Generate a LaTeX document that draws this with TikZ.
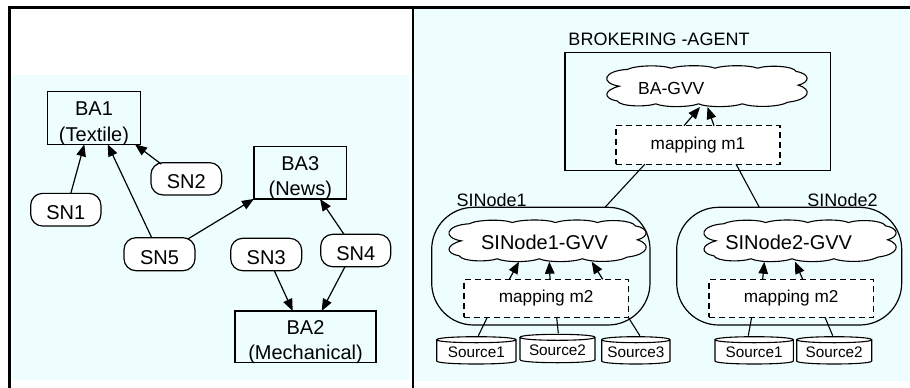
\documentclass[tikz,border=0pt]{standalone}
\usepackage{fontspec}
\setmainfont{Liberation Sans}
\usetikzlibrary{arrows.meta,calc}
\definecolor{panelcyan}{RGB}{238,254,255}

% closed scalloped outline filling the box of node #1 (half sizes #2, #3 in pt)
\newcommand\cloudoutline[3]{%
  \begin{scope}[shift={(#1.center)}, x=#2pt, y=#3pt]
    \draw[line width=1.1pt, fill=white]
      (-0.86,0.0) .. controls (-1.05,0.15) and (-1.02,0.75) .. (-0.78,0.82)
      .. controls (-0.70,1.02) and (-0.45,1.05) .. (-0.35,0.88)
      .. controls (-0.25,1.04) and (0.0,1.04) .. (0.08,0.88)
      .. controls (0.18,1.04) and (0.42,1.04) .. (0.5,0.88)
      .. controls (0.6,1.04) and (0.85,1.0) .. (0.88,0.72)
      .. controls (1.02,0.6) and (1.02,0.2) .. (0.9,0.05)
      .. controls (1.04,-0.15) and (1.02,-0.65) .. (0.8,-0.78)
      .. controls (0.7,-1.04) and (0.45,-1.04) .. (0.35,-0.86)
      .. controls (0.25,-1.04) and (0.0,-1.04) .. (-0.08,-0.86)
      .. controls (-0.18,-1.04) and (-0.42,-1.04) .. (-0.5,-0.86)
      .. controls (-0.6,-1.02) and (-0.85,-1.0) .. (-0.88,-0.72)
      .. controls (-1.02,-0.6) and (-1.02,-0.2) .. (-0.86,0.0) -- cycle;
  \end{scope}}

% data-source drum drawn over the box of node #1
\newcommand\drum[1]{%
  \draw[line width=1.1pt, fill=white]
    let \p1=(#1.north west), \p2=(#1.south east) in
    (\x1,\y1-3pt) -- (\x1,\y2+3pt)
    .. controls (\x1,\y2-1pt) and (\x2,\y2-1pt) .. (\x2,\y2+3pt)
    -- (\x2,\y1-3pt)
    .. controls (\x2,\y1+1pt) and (\x1,\y1+1pt) .. (\x1,\y1-3pt)
    .. controls (\x1,\y1-7pt) and (\x2,\y1-7pt) .. (\x2,\y1-3pt);}

\begin{document}
\begin{tikzpicture}[x=1pt,y=-1pt,
  every node/.style={font=\fontsize{18}{26}\selectfont, inner sep=0pt, outer sep=0pt},
  babox/.style={draw, line width=1.2pt, fill=panelcyan, align=center,
    font=\fontsize{20}{25.7}\selectfont, text height=46pt, text depth=0pt},
  snbox/.style={draw, line width=1.2pt, fill=white, rounded corners=12pt,
    font=\fontsize{20}{22}\selectfont, text height=20.3pt, text depth=0pt},
  arr/.style={line width=1.2pt, -{Triangle[length=12pt,width=9.5pt]}},
  conn/.style={line width=1.1pt},
  mapbox/.style={draw, line width=1.1pt, fill=white, dash pattern=on 6pt off 4pt,
    font=\fontsize{17.2}{20}\selectfont},
  sinbox/.style={draw, line width=1.2pt, fill=panelcyan, rounded corners=42pt},
  gvvtext/.style={font=\fontsize{20}{22}\selectfont},
  srcbox/.style={font=\fontsize{15.3}{18}\selectfont}
]
\useasboundingbox (0,0) rectangle (910,388);

% panel backgrounds and frame
\fill[panelcyan] (12,75) rectangle (409,380);
\fill[panelcyan] (414,8) rectangle (910,381);
\draw[line width=2.5pt] (9.25,388) -- (9.25,7.25) -- (910,7.25);
\draw[line width=2pt] (412.5,7) -- (412.5,388);

% ---------------- left panel: agents and source nodes
\node[babox, minimum width=92.6pt, minimum height=52.6pt] (ba1) at (94,118) {BA1\\(Textile)};
\node[babox, minimum width=92.7pt, minimum height=52.3pt] (ba3) at (300.3,172.8) {BA3\\(News)};
\node[babox, minimum width=141pt, minimum height=51.7pt] (ba2) at (305.5,336.8) {BA2\\(Mechanical)};

\node[snbox, minimum width=70.3pt, minimum height=32.7pt] (sn1) at (65.8,209.7) {SN1};
\node[snbox, minimum width=70.7pt, minimum height=32.3pt] (sn2) at (186.3,178.8) {SN2};
\node[snbox, minimum width=71pt, minimum height=33pt] (sn5) at (159.5,254.2) {SN5};
\node[snbox, minimum width=71pt, minimum height=32.4pt] (sn3) at (266.2,254.5) {SN3};
\node[snbox, minimum width=70pt, minimum height=32.4pt] (sn4) at (355.7,250.5) {SN4};

\draw[arr] ([xshift=5pt]sn1.north) -- ([xshift=-9.7pt]ba1.south);
\draw[arr] ([xshift=-7.8pt]sn5.north) -- ([xshift=13.7pt]ba1.south);
\draw[arr] ([xshift=-25pt,yshift=-1.5pt]sn2.north) -- ([xshift=41pt]ba1.south);
\draw[arr] ([xshift=28pt,yshift=-1.5pt]sn5.north) -- (ba3.south west);
\draw[arr] ([xshift=-11.7pt]sn4.north) -- ([xshift=19.7pt]ba3.south);
\draw[arr] ([xshift=8.1pt]sn3.south) -- ([xshift=-12.8pt]ba2.north);
\draw[arr] ([xshift=-10.7pt]sn4.south) -- ([xshift=16.2pt]ba2.north);

% ---------------- right panel: brokering agent
\node (batitle) at (659,39) {BROKERING -AGENT};
\node[draw, line width=1.2pt, fill=panelcyan, minimum width=265.7pt, minimum height=118.4pt] (bagent) at (697.85,111.5) {};
\node[minimum width=203.3pt, minimum height=41pt] (bagvv) at (706.7,86.2) {};
\cloudoutline{bagvv}{101.65}{20.5}
\node[font=\fontsize{17.5}{20}\selectfont] (bagvvtext) at (671.3,88) {BA-GVV};
\node[mapbox, minimum width=164pt, minimum height=38.3pt] (m1) at (698,144.9) {mapping m1};
\draw[arr] ([xshift=-14pt]m1.north) -- ([xshift=-6.7pt,yshift=-0.3pt]bagvv.south);
\draw[arr] ([xshift=16pt]m1.north) -- ([xshift=0.8pt,yshift=-0.3pt]bagvv.south);

% ---------------- source-integration nodes
\node (sinlabel1) at (491.7,200.5) {SINode1};
\node (sinlabel2) at (842.5,200.5) {SINode2};
\node[sinbox, minimum width=218.3pt, minimum height=117.7pt] (sin1) at (540.85,266.15) {};
\node[sinbox, minimum width=225pt, minimum height=117.7pt] (sin2) at (789.2,266.15) {};

\draw[conn] ([xshift=-53pt]m1.south) -- ([xshift=64.15pt]sin1.north);
\draw[conn] ([xshift=38pt]m1.south) -- ([xshift=-29.9pt]sin2.north);

\node[minimum width=200pt, minimum height=41.7pt] (gvv1) at (547.3,240.85) {};
\cloudoutline{gvv1}{100}{20.85}
\node[gvvtext] (gvv1text) at (544.5,242) {SINode1-GVV};
\node[minimum width=195pt, minimum height=41.7pt] (gvv2) at (799.8,240.85) {};
\cloudoutline{gvv2}{97.5}{20.85}
\node[gvvtext] (gvv2text) at (788.7,242) {SINode2-GVV};

\node[mapbox, minimum width=164.3pt, minimum height=38pt] (m2a) at (546.15,298.3) {mapping m2};
\node[mapbox, minimum width=164.3pt, minimum height=38pt] (m2b) at (791.15,298.3) {mapping m2};

\draw[arr] ([xshift=-36.85pt]m2a.north) -- ([xshift=-28.3pt]gvv1.south);
\draw[arr] ([xshift=3.85pt]m2a.north) -- ([xshift=2pt]gvv1.south);
\draw[arr] ([xshift=56.55pt]m2a.north) -- ([xshift=44.4pt]gvv1.south);
\draw[arr] ([xshift=-28.45pt]m2b.north) -- ([xshift=-35.5pt]gvv2.south);
\draw[arr] ([xshift=11.55pt]m2b.north) -- ([xshift=-4.8pt]gvv2.south);

% ---------------- data sources
\node[srcbox, minimum width=79.3pt, minimum height=27.3pt] (s1a) at (476.35,350.35) {};
\node[srcbox, minimum width=75pt, minimum height=28.4pt] (s2a) at (557.5,348.5) {};
\node[srcbox, minimum width=68.3pt, minimum height=27.3pt] (s3a) at (635.85,350.35) {};
\node[srcbox, minimum width=78.3pt, minimum height=27.3pt] (s1b) at (754.15,350.35) {};
\node[srcbox, minimum width=75pt, minimum height=27.3pt] (s2b) at (834.2,350.35) {};

\draw[conn] ([xshift=2pt,yshift=1pt]s1a.north) -- ([xshift=-58.85pt]m2a.south);
\draw[conn] ([xshift=0.8pt,yshift=1pt]s2a.north) -- ([xshift=10.5pt]m2a.south);
\draw[conn] ([xshift=4pt,yshift=1pt]s3a.north) -- (m2a.south east);
\draw[conn] ([xshift=-5.85pt,yshift=1pt]s1b.north) -- ([xshift=-39.5pt]m2b.south);
\draw[conn] ([xshift=-1.5pt,yshift=1pt]s2b.north) -- ([xshift=33.85pt]m2b.south);

\drum{s1a}\drum{s2a}\drum{s3a}\drum{s1b}\drum{s2b}
\node[srcbox] (s1atext) at ([yshift=-2pt]s1a.center) {Source1};
\node[srcbox] (s2atext) at ([yshift=-2pt]s2a.center) {Source2};
\node[srcbox] (s3atext) at ([yshift=-2pt]s3a.center) {Source3};
\node[srcbox] (s1btext) at ([yshift=-2pt]s1b.center) {Source1};
\node[srcbox] (s2btext) at ([yshift=-2pt]s2b.center) {Source2};
\end{tikzpicture}
\end{document}
